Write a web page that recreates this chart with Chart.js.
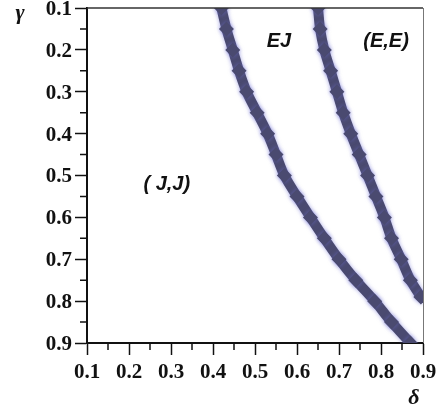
<!DOCTYPE html>
<html>
<head>
<meta charset="utf-8">
<script src="https://cdn.jsdelivr.net/npm/chart.js@4.4.0/dist/chart.umd.min.js"></script>
<style>
  body { margin: 0; background: #fff; }
  #wrap { width: 442px; height: 413px; }
</style>
</head>
<body>
<div id="wrap"><canvas id="phaseChart" width="442" height="413"></canvas></div>
<script>
// boundary between (J,J) and EJ
const gammaLeft = [0.10, 0.15, 0.20, 0.25, 0.30, 0.35, 0.40, 0.45, 0.50, 0.55, 0.60, 0.65, 0.70, 0.75, 0.80, 0.85, 0.90];
const deltaLeft = [0.420, 0.432, 0.447, 0.462, 0.480, 0.505, 0.530, 0.550, 0.570, 0.600, 0.632, 0.665, 0.700, 0.740, 0.785, 0.825, 0.870];

// boundary between EJ and (E,E)
const gammaRight = [0.10, 0.15, 0.20, 0.25, 0.30, 0.35, 0.40, 0.45, 0.50, 0.55, 0.60, 0.65, 0.70, 0.75, 0.79];
const deltaRight = [0.650, 0.655, 0.665, 0.680, 0.695, 0.710, 0.728, 0.748, 0.768, 0.788, 0.808, 0.825, 0.848, 0.870, 0.895];

const minorTicks = [0.15, 0.25, 0.35, 0.45, 0.55, 0.65, 0.75, 0.85];

const regionNames = ['( J,J)', 'EJ', '(E,E)'];

const toPoints = (xs, ys) => xs.map((x, i) => ({ x: x, y: ys[i] }));

const curveColor = '#4a4a70';
const curveStyle = {
  showLine: true,
  borderColor: curveColor,
  borderWidth: 10,
  pointStyle: 'rectRot',
  pointRadius: 7.5,
  pointHoverRadius: 7.5,
  pointBackgroundColor: curveColor,
  pointBorderWidth: 0,
  tension: 0.3,
  clip: 0
};

// where the region names sit, in (delta, gamma)
const regionAt = [[0.29, 0.522], [0.557, 0.179], [0.812, 0.179]];

const framePlugin = {
  id: 'frame',
  beforeDatasetsDraw(chart) {
    const ctx = chart.ctx;
    ctx.save();
    ctx.shadowColor = 'rgba(110,110,210,0.6)';
    ctx.shadowBlur = 4;
  },
  afterDatasetsDraw(chart) {
    chart.ctx.restore();
  },
  afterDraw(chart) {
    const ctx = chart.ctx;
    const { left, right, top, bottom } = chart.chartArea;
    const xs = chart.scales.x, ys = chart.scales.y;
    ctx.save();

    // top and right edges of the box
    ctx.strokeStyle = '#333';
    ctx.lineWidth = 1.5;
    ctx.beginPath();
    ctx.moveTo(left, top);
    ctx.lineTo(right, top);
    ctx.stroke();
    ctx.strokeStyle = '#777';
    ctx.lineWidth = 1;
    ctx.beginPath();
    ctx.moveTo(right + 0.5, top);
    ctx.lineTo(right + 0.5, bottom);
    ctx.stroke();

    // minor ticks
    ctx.strokeStyle = '#111';
    ctx.lineWidth = 1.5;
    ctx.beginPath();
    minorTicks.forEach(v => {
      const px = xs.getPixelForValue(v);
      ctx.moveTo(px, bottom);
      ctx.lineTo(px, bottom + 7);
      const py = ys.getPixelForValue(v);
      ctx.moveTo(left, py);
      ctx.lineTo(left - 7, py);
    });
    ctx.stroke();

    // axis symbols
    ctx.fillStyle = '#111';
    ctx.font = 'italic bold 22px "Liberation Serif"';
    ctx.textAlign = 'center';
    ctx.textBaseline = 'middle';
    ctx.fillText('γ', 20, 13);
    ctx.fillText('δ', 414, 398);

    // region names
    ctx.font = 'italic bold 20px "Liberation Sans"';
    regionNames.forEach((name, i) => {
      const [d, g] = regionAt[i];
      ctx.fillText(name, xs.getPixelForValue(d), ys.getPixelForValue(g));
    });
    ctx.restore();
  }
};

const tickFont = { family: 'Liberation Serif', weight: 'bold', size: 21 };

new Chart(document.getElementById('phaseChart'), {
  type: 'scatter',
  data: {
    datasets: [
      Object.assign({ label: 'J-EJ', data: toPoints(deltaLeft, gammaLeft) }, curveStyle),
      Object.assign({ label: 'EJ-E', data: toPoints(deltaRight, gammaRight) }, curveStyle)
    ]
  },
  options: {
    responsive: false,
    animation: false,
    layout: { padding: { left: 0, top: 8, right: 19, bottom: 0 } },
    plugins: { legend: { display: false }, tooltip: { enabled: false } },
    scales: {
      x: {
        type: 'linear',
        min: 0.1,
        max: 0.9,
        ticks: {
          stepSize: 0.1,
          padding: 5,
          color: '#111',
          font: tickFont,
          callback: v => v.toFixed(1)
        },
        grid: { drawOnChartArea: false, tickLength: 12, tickColor: '#111', tickWidth: 1.5 },
        border: { color: '#111', width: 2 },
        afterFit: s => { s.height = 70; s.paddingLeft = 0; s.paddingRight = 0; }
      },
      y: {
        type: 'linear',
        reverse: true,
        min: 0.1,
        max: 0.9,
        ticks: {
          stepSize: 0.1,
          padding: 3,
          labelOffset: 1.5,
          color: '#111',
          font: tickFont,
          callback: v => v.toFixed(1)
        },
        grid: { drawOnChartArea: false, tickLength: 12, tickColor: '#111', tickWidth: 1.5 },
        border: { color: '#111', width: 2 },
        afterFit: s => { s.width = 87; s.paddingTop = 0; s.paddingBottom = 0; }
      }
    }
  },
  plugins: [framePlugin]
});
</script>
</body>
</html>
